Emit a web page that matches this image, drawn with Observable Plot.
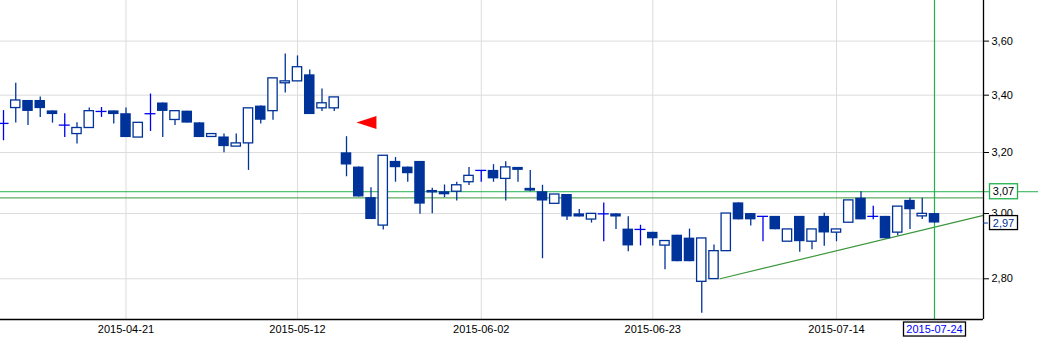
<!DOCTYPE html>
<html><head><meta charset="utf-8">
<script src="https://cdn.jsdelivr.net/npm/d3@7"></script>
<script src="https://cdn.jsdelivr.net/npm/@observablehq/plot@0.6"></script>
<style>
html,body{margin:0;padding:0;background:#fff;}
svg{display:block;}
</style></head><body><div id="chart"></div>
<script>
// ---- data ----
const dates = [
"2015-04-07","2015-04-08","2015-04-09","2015-04-10","2015-04-13","2015-04-14","2015-04-15","2015-04-16","2015-04-17","2015-04-20",
"2015-04-21","2015-04-22","2015-04-23","2015-04-24","2015-04-27","2015-04-28","2015-04-29","2015-04-30","2015-05-04","2015-05-05",
"2015-05-06","2015-05-07","2015-05-08","2015-05-11","2015-05-12","2015-05-13","2015-05-14","2015-05-15","2015-05-18","2015-05-19",
"2015-05-20","2015-05-21","2015-05-22","2015-05-25","2015-05-26","2015-05-27","2015-05-28","2015-05-29","2015-06-01","2015-06-02",
"2015-06-03","2015-06-05","2015-06-08","2015-06-09","2015-06-10","2015-06-11","2015-06-12","2015-06-15","2015-06-16","2015-06-17",
"2015-06-18","2015-06-19","2015-06-22","2015-06-23","2015-06-24","2015-06-25","2015-06-26","2015-06-29","2015-06-30","2015-07-01",
"2015-07-02","2015-07-03","2015-07-06","2015-07-07","2015-07-08","2015-07-09","2015-07-10","2015-07-13","2015-07-14","2015-07-15",
"2015-07-16","2015-07-17","2015-07-20","2015-07-21","2015-07-22","2015-07-23","2015-07-24"];
const open = [
3.30,3.354,3.381,3.381,3.344,3.294,3.263,3.284,3.342,3.344,
3.334,3.251,3.334,3.372,3.312,3.343,3.302,3.253,3.253,3.220,
3.231,3.361,3.343,3.443,3.450,3.474,3.353,3.353,3.199,3.151,
3.051,2.962,3.170,3.151,3.170,3.068,3.070,3.070,3.101,3.140,
3.140,3.112,3.150,3.081,3.070,3.031,3.061,2.999,2.981,2.999,
2.999,2.951,2.950,2.941,2.900,2.932,2.923,2.791,2.799,2.883,
3.034,3.000,2.991,2.991,2.912,2.991,2.912,2.991,2.940,2.971,
3.049,2.991,2.991,2.940,3.042,2.991,3.000];
const high = [
3.345,3.443,3.381,3.393,3.344,3.334,3.302,3.354,3.356,3.344,
3.354,3.302,3.404,3.372,3.343,3.343,3.302,3.263,3.263,3.263,
3.353,3.361,3.461,3.551,3.544,3.492,3.422,3.392,3.254,3.151,
3.083,3.189,3.183,3.151,3.170,3.081,3.092,3.101,3.150,3.140,
3.159,3.169,3.150,3.140,3.091,3.061,3.061,3.013,2.999,3.034,
2.999,2.990,2.963,2.941,2.914,2.932,2.951,2.922,2.902,3.000,
3.034,3.000,2.991,2.991,2.950,2.991,2.950,3.001,2.950,3.042,
3.070,3.023,2.991,3.022,3.049,3.049,3.000];
const low = [
3.240,3.301,3.293,3.321,3.301,3.251,3.229,3.284,3.321,3.298,
3.251,3.251,3.272,3.251,3.293,3.301,3.251,3.253,3.199,3.220,
3.140,3.298,3.311,3.408,3.450,3.331,3.342,3.342,3.119,3.053,
2.981,2.948,3.101,3.101,2.998,2.999,3.051,3.040,3.090,3.101,
3.101,3.040,3.101,3.070,2.860,3.031,2.978,2.989,2.970,2.912,
2.950,2.881,2.899,2.899,2.827,2.851,2.851,2.700,2.799,2.883,
2.980,2.961,2.912,2.949,2.912,2.880,2.887,2.898,2.912,2.971,
2.980,2.980,2.921,2.930,2.950,2.981,2.970];
const close = [
3.30,3.381,3.342,3.352,3.331,3.294,3.284,3.343,3.342,3.331,
3.251,3.302,3.334,3.342,3.343,3.301,3.251,3.263,3.220,3.231,
3.353,3.311,3.461,3.450,3.502,3.331,3.371,3.392,3.158,3.053,
2.981,3.189,3.149,3.129,3.030,3.072,3.060,3.091,3.122,3.140,
3.112,3.150,3.140,3.072,3.040,3.061,2.989,2.989,2.999,2.999,
2.989,2.899,2.950,2.921,2.914,2.851,2.851,2.922,2.883,3.000,
2.980,2.980,2.991,2.949,2.950,2.912,2.950,2.939,2.950,3.042,
2.980,2.991,2.921,3.022,3.012,2.999,2.970];
const xTickDates = ["2015-04-21","2015-05-12","2015-06-02","2015-06-23","2015-07-14"];
const yTicks = [2.8, 3.0, 3.2, 3.4, 3.6];
const cursorDate = "2015-07-24";
const levelLine = [3.07];
const levelLine2 = [3.05];
const lastClose = [close[close.length - 1]];
const trendline = [{i: 58.5, v: 2.80}, {i: 80, v: 2.994}];
const marker = [{i: 29.63, v: 3.303}];
const xDomain = [-0.245, 80];
const yDomain = [2.682, 3.758];

// ---- derived ----
const candles = dates.map((date, i) => ({i, date, open: open[i], high: high[i], low: low[i], close: close[i]}));
const up = candles.filter(d => d.close > d.open);
const down = candles.filter(d => d.close < d.open);
const doji = candles.filter(d => d.close === d.open);
const nonDoji = candles.filter(d => d.close !== d.open);
const xTicks = xTickDates.map(d => dates.indexOf(d));
const cursorIdx = dates.indexOf(cursorDate);
const fmt = v => v.toFixed(2).replace(".", ",");

const W = 1038, H = 338, mR = 55, mB = 19;
const xAtEdge = xDomain[0] + (xDomain[1] - xDomain[0]) * W / (W - mR);

const DARK = "#003399", BRIGHT = "#0000ee", GREEN = "#22b14c", DGREEN = "#3c963c", GRID = "#dcdcdc";
const leftTriangle = {draw(ctx) { ctx.moveTo(-10, 0); ctx.lineTo(10, -6.5); ctx.lineTo(10, 6.5); ctx.closePath(); }};

const plot = Plot.plot({
  width: W, height: H,
  marginLeft: 0, marginRight: mR, marginTop: 0, marginBottom: mB,
  style: {fontFamily: "'Liberation Sans', Arial, sans-serif", fontSize: "11px", background: "#fff", color: "#000"},
  x: {type: "linear", domain: xDomain},
  y: {type: "log", domain: yDomain},
  marks: [
    Plot.ruleX(xTicks, {stroke: GRID}),
    Plot.ruleY(yTicks, {stroke: GRID}),
    Plot.ruleY(levelLine2, {y: d => d, stroke: DGREEN}),
    Plot.ruleY(levelLine, {y: d => d, x1: () => xDomain[0], x2: () => xAtEdge, stroke: GREEN}),
    Plot.line(trendline, {x: "i", y: "v", stroke: DGREEN, strokeWidth: 1.2}),
    Plot.ruleX([cursorIdx], {stroke: GREEN, strokeWidth: 1.2}),
    Plot.ruleX(nonDoji, {x: "i", y1: "low", y2: "high", stroke: DARK, strokeWidth: 1.3}),
    Plot.rect(down, {x1: d => d.i - 0.43, x2: d => d.i + 0.43, y1: "open", y2: "close", fill: DARK}),
    Plot.rect(up, {x1: d => d.i - 0.38, x2: d => d.i + 0.38, y1: "open", y2: "close", fill: "white", stroke: DARK, strokeWidth: 1.3}),
    Plot.ruleX(doji, {x: "i", y1: "low", y2: "high", stroke: BRIGHT, strokeWidth: 1.3}),
    Plot.ruleY(doji, {y: "close", x1: d => d.i - 0.45, x2: d => d.i + 0.45, stroke: BRIGHT, strokeWidth: 1.3}),
    Plot.dot(marker, {x: "i", y: "v", symbol: leftTriangle, fill: "#ff0000", stroke: "none"}),
    Plot.ruleY([yDomain[0]], {stroke: "#000", strokeWidth: 1.3}),
    Plot.ruleX([xDomain[1]], {stroke: "#000", strokeWidth: 1.3}),
    Plot.axisY({anchor: "right", ticks: yTicks, tickFormat: fmt, tickSize: 5, tickPadding: 3, label: null, fontSize: 11}),
    Plot.axisX({anchor: "bottom", ticks: xTicks, tickFormat: i => dates[i], tickSize: 0, tickPadding: 6, label: null, fontSize: 11}),
    Plot.ruleY(lastClose, {y: d => d, x1: () => xDomain[1], x2: () => xDomain[1] + 0.4, stroke: DARK}),
    Plot.text([cursorDate], {x: () => cursorIdx, y: () => yDomain[0], dy: 10, text: d => d, fill: "#0000ff", fontSize: 11}),
    Plot.text(levelLine, {x: () => xDomain[1], y: d => d, dx: 20, text: d => fmt(d), fill: "#000", fontSize: 11}),
    Plot.text(lastClose, {x: () => xDomain[1], y: d => d, dx: 20, text: d => fmt(d), fill: DARK, fontSize: 11})
  ]
});
document.getElementById("chart").append(plot);

function boxify(content, stroke, w, h) {
  const all = Array.from(plot.querySelectorAll("text"));
  // take the last text with matching content (labels are drawn after the axes)
  const matches = all.filter(t => t.textContent.trim() === content);
  const t = matches[matches.length - 1];
  if (!t) return;
  const b = t.getBBox();
  const cx = b.x + b.width / 2, cy = b.y + b.height / 2;
  const r = document.createElementNS("http://www.w3.org/2000/svg", "rect");
  r.setAttribute("x", cx - w / 2);
  r.setAttribute("y", cy - h / 2);
  r.setAttribute("width", w);
  r.setAttribute("height", h);
  r.setAttribute("fill", "#fff");
  r.setAttribute("stroke", stroke);
  r.setAttribute("stroke-width", 1.3);
  if (t.getAttribute("transform")) r.setAttribute("transform", t.getAttribute("transform"));
  t.parentNode.insertBefore(r, t);
}
boxify(cursorDate, "#000", 62, 14);
boxify(fmt(levelLine[0]), GREEN, 28, 15);
boxify(fmt(lastClose[0]), "#000", 28, 14);
</script></body></html>
